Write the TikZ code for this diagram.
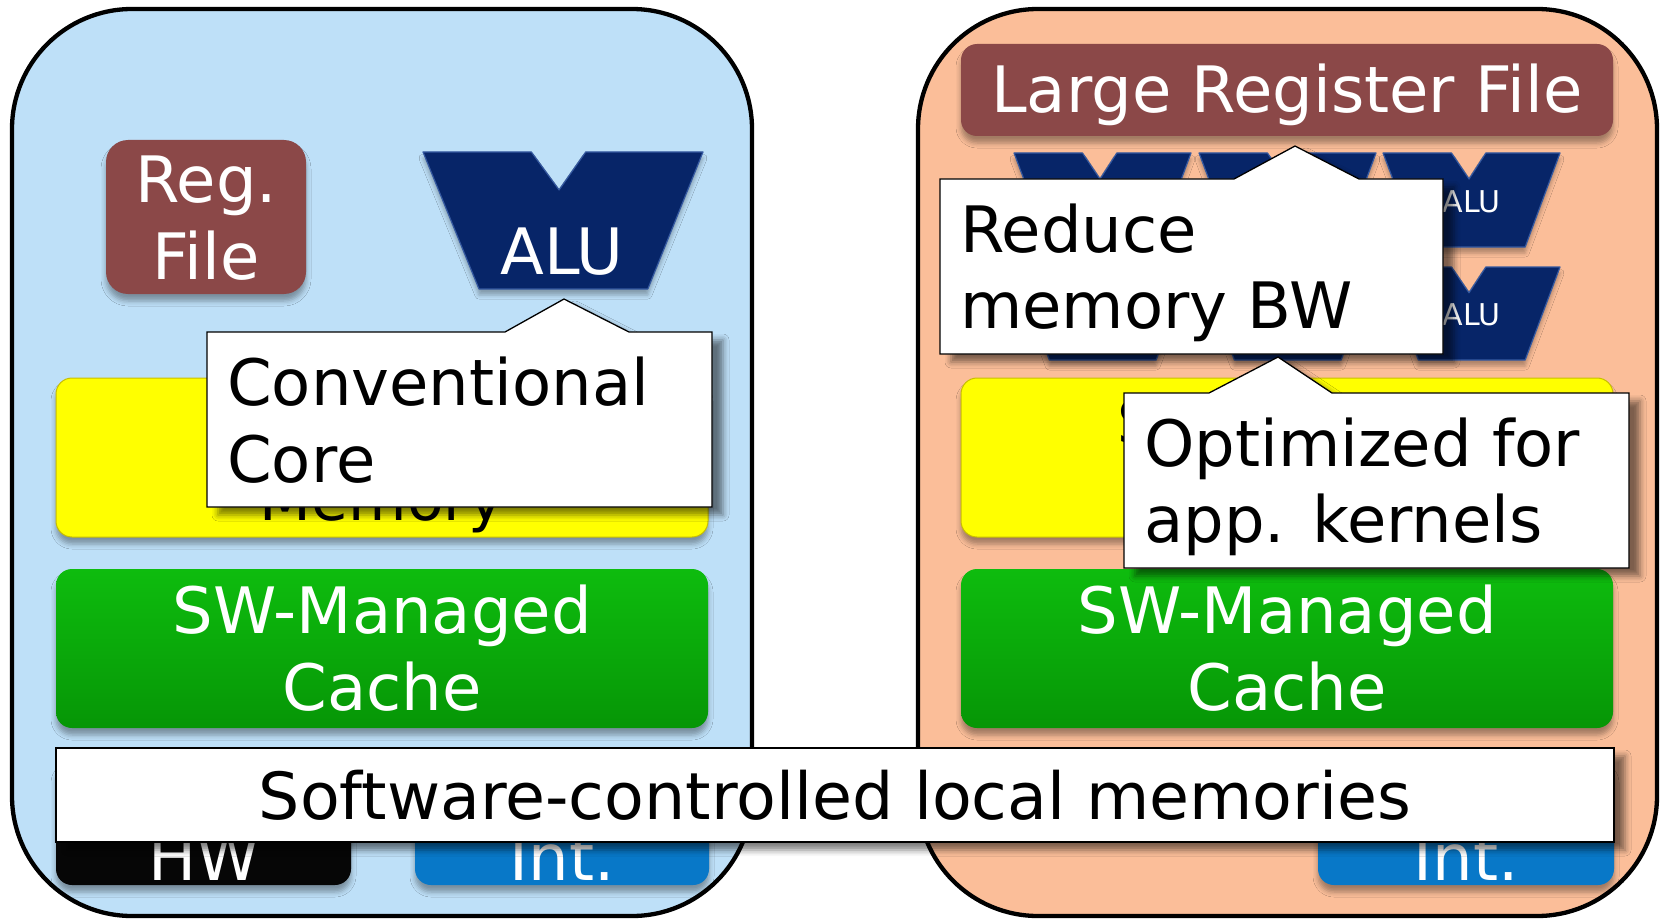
\documentclass[tikz,border=0pt]{standalone}
\usepackage{fontspec}
\setmainfont{DejaVu Sans}
\usetikzlibrary{shadows.blur}

\definecolor{corebg}{RGB}{190,224,248}
\definecolor{accelbg}{RGB}{251,190,153}
\definecolor{regred}{RGB}{139,72,72}
\definecolor{aluNavy}{RGB}{7,37,104}
\definecolor{aluEdge}{RGB}{52,88,160}
\definecolor{memYellow}{RGB}{255,255,0}
\definecolor{memEdge}{RGB}{200,190,0}
\definecolor{cacheTop}{RGB}{14,188,14}
\definecolor{cacheBot}{RGB}{6,150,6}
\definecolor{intBlue}{RGB}{8,120,200}
\definecolor{hwBlack}{RGB}{6,6,6}

\tikzset{
  panel/.style={draw=black, line width=4.3pt, rounded corners=120pt, inner sep=0pt},
  unit/.style={rounded corners=16pt, inner sep=0pt,
    blur shadow={shadow xshift=0pt, shadow yshift=-7pt, shadow blur radius=5pt, shadow opacity=35}},
  callout/.style={fill=white, draw=black, line width=1.3pt, line join=miter,
    blur shadow={shadow xshift=11pt, shadow yshift=-8pt, shadow blur radius=6pt, shadow opacity=50}},
  bigtext/.style={font=\fontsize{64}{77}\selectfont, inner sep=0pt},
  memtext/.style={font=\fontsize{60}{77}\selectfont, inner sep=0pt, anchor=base, text=black},
  lbl/.style={bigtext, text=white, anchor=base},
  note/.style={bigtext, text=black, anchor=base west},
  smalu/.style={font=\fontsize{30}{36}\selectfont, inner sep=0pt, anchor=base, text=white},
}

% ALU symbol: trapezoid with a notch in the top edge
\newcommand\aluShape[4]{%
  \begin{scope}[shift={(#1,#2)}, x=#3pt, y=-#4pt]
    \path[fill=aluNavy, draw=aluEdge, line width=1.2pt, line join=round,
      blur shadow={shadow xshift=0pt, shadow yshift=-6pt, shadow blur radius=4pt, shadow opacity=30}]
      (0,0) -- (0.387,0) -- (0.486,0.277) -- (0.581,0) -- (1,0)
      -- (0.803,1) -- (0.2,1) -- cycle;
  \end{scope}}

\begin{document}
\begin{tikzpicture}[x=1pt, y=-1pt]
\useasboundingbox (0,0) rectangle (1662,920);

% the two cores
\node[panel, fill=corebg, minimum width=740pt, minimum height=907pt] (core) at (382,462.5) {};
\node[panel, fill=accelbg, minimum width=739pt, minimum height=907pt] (accel) at (1287.5,462.5) {};

% ---- conventional core ----
\node[unit, rounded corners=22pt, fill=regred, minimum width=200pt, minimum height=154pt] (regfile) at (206,217) {};
\aluShape{423}{152}{280}{137}
\node[unit, fill=memYellow, draw=memEdge, line width=1pt, minimum width=652pt, minimum height=159pt] (memL) at (382,457.5) {};
\node[unit, top color=cacheTop, bottom color=cacheBot, minimum width=652pt, minimum height=159pt] (cacheL) at (382,648.5) {};
\node[unit, fill=hwBlack, minimum width=295pt, minimum height=125pt] (hw) at (203.5,822.5) {};
\node[unit, fill=intBlue, minimum width=294pt, minimum height=125pt] (intL) at (562,822.5) {};

\node[lbl] (regA) at (206,203) {Reg.};
\node[lbl] (regB) at (206,279) {File};
\node[lbl] (aluL) at (562,274) {ALU};
\node[memtext] (memLb) at (382,520) {Memory};
\node[lbl] (cacheLa) at (382,633) {SW-Managed};
\node[lbl] (cacheLb) at (382,710) {Cache};
\node[lbl] (hwT) at (204,880) {HW};
\node[lbl] (intLT) at (562,880) {Int.};

% ---- accelerator core ----
\node[unit, fill=regred, minimum width=652pt, minimum height=92pt] (lrf) at (1287,90) {};
\aluShape{1014}{153}{177}{94}
\aluShape{1199}{153}{177}{94}
\aluShape{1383}{153}{177}{94}
\aluShape{1014}{267}{177}{93}
\aluShape{1199}{267}{177}{93}
\aluShape{1383}{267}{177}{93}
\node[unit, fill=memYellow, draw=memEdge, line width=1pt, minimum width=652pt, minimum height=159pt] (memR) at (1287,457.5) {};
\node[unit, top color=cacheTop, bottom color=cacheBot, minimum width=652pt, minimum height=159pt] (cacheR) at (1287,648.5) {};
\node[unit, fill=intBlue, minimum width=296pt, minimum height=125pt] (intR) at (1466,822.5) {};

\node[lbl] (lrfT) at (1287,113) {Large Register File};
\node[smalu] (aluTop) at (1471.5,213) {ALU};
\node[smalu] (aluBot) at (1471.5,325) {ALU};
\node[memtext] (memRa) at (1287,443) {Scratchpad};
\node[lbl] (cacheRa) at (1287,633) {SW-Managed};
\node[lbl] (cacheRb) at (1287,710) {Cache};
\node[lbl] (intRT) at (1466,880) {Int.};

% ---- callouts ----
\path[callout] (207,332) -- (505,332) -- (564,299) -- (629,332) -- (712,332)
  -- (712,507) -- (207,507) -- cycle;
\node[note] (convA) at (227,405) {Conventional};
\node[note] (convB) at (227,482) {Core};

\path[callout] (940,179) -- (1234,179) -- (1295,146) -- (1359,179) -- (1443,179)
  -- (1443,354) -- (940,354) -- cycle;
\node[note] (redA) at (960,252) {Reduce};
\node[note] (redB) at (960,328) {memory BW};

\path[callout] (1124,393) -- (1209,393) -- (1278,357) -- (1332,393) -- (1629,393)
  -- (1629,568) -- (1124,568) -- cycle;
\node[note] (optA) at (1144,466) {Optimized for};
\node[note] (optB) at (1144,542) {app. kernels};

% ---- banner across both cores ----
\path[callout] (56,748) rectangle (1614,842);
\node[bigtext, font=\fontsize{65}{77}\selectfont, anchor=base] (banner) at (835,819) {Software-controlled local memories};
\end{tikzpicture}
\end{document}
